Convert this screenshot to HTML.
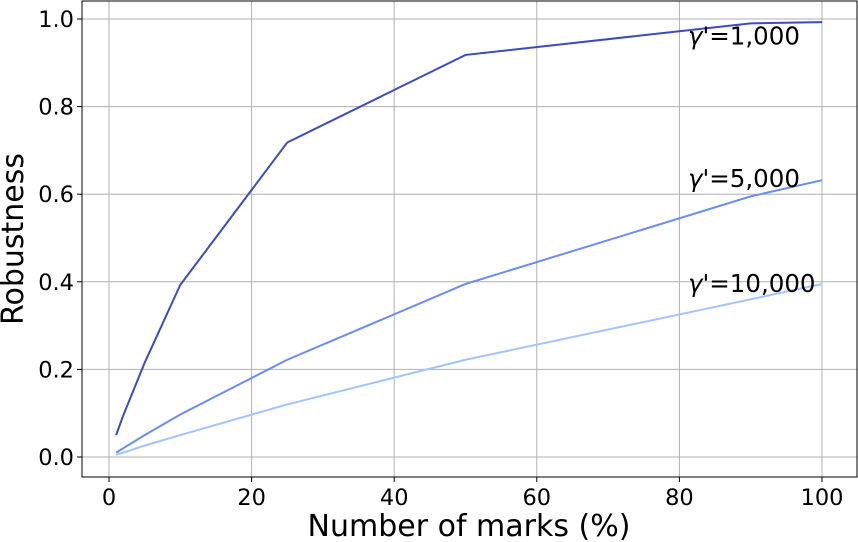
<!DOCTYPE html>
<html><head><meta charset="utf-8"><style>body{margin:0;background:#fff}svg{display:block;font-family:"DejaVu Sans","Liberation Sans",sans-serif}</style></head>
<body>
<svg id="c" width="858" height="542"></svg>
<script>
const xs=[1,2,5,10,25,50,90,100];
const s1000=[0.05,0.095,0.215,0.393,0.718,0.918,0.99,0.993];
const s5000=[0.01,0.02,0.05,0.097,0.222,0.395,0.595,0.632];
const s10000=[0.005,0.01,0.026,0.05,0.12,0.222,0.36,0.395];
const series=[s1000,s5000,s10000];
const labels=["1,000","5,000","10,000"];
const labelY=[0.96,0.635,0.395];
const colors=["#3a4cc0","#6b8df0","#a5c3fe"];
const xticks=[0,20,40,60,80,100];
const yticks=[0.0,0.2,0.4,0.6,0.8,1.0];
const L=82,R=857,T=1,B=477;
const X=v=>109+v*7.13, Y=v=>457-v*438;
const svg=document.getElementById('c');const NS='http://www.w3.org/2000/svg';
function mk(t,a,p){const e=document.createElementNS(NS,t);for(const k in a)e.setAttribute(k,a[k]);(p||svg).appendChild(e);return e;}
xticks.forEach(t=>{const g=mk('line',{x1:X(t),x2:X(t),y1:T,y2:B,stroke:'#b0b0b0','stroke-width':1});

mk('line',{x1:X(t),x2:X(t),y1:B,y2:B+5,stroke:'#000'});
const tx=mk('text',{x:X(t),y:B+28,'text-anchor':'middle','font-size':22.5});tx.textContent=t;
});
yticks.forEach(t=>{const g=mk('line',{x1:L,x2:R,y1:Y(t),y2:Y(t),stroke:'#b0b0b0','stroke-width':1});

mk('line',{x1:L-5,x2:L,y1:Y(t),y2:Y(t),stroke:'#000'});
const tx=mk('text',{x:L-8,y:Y(t)+8,'text-anchor':'end','font-size':22.5});tx.textContent=t.toFixed(1);
});
series.forEach((s,i)=>{const p=mk('polyline',{points:s.map((v,j)=>X(xs[j])+','+Y(v)).join(' '),fill:'none',stroke:colors[i],'stroke-width':2});

const tx=mk('text',{x:688,y:Y(labelY[i])+8,'font-size':24.5});
const g1=mk('tspan',{'font-style':'italic'},tx);g1.textContent='γ';
const g2=mk('tspan',{},tx);g2.textContent="'="+labels[i];
});
const f=mk('rect',{x:L,y:T,width:R-L,height:B-T,fill:'none',stroke:'#000','stroke-width':1});

const xl=mk('text',{x:469,y:536,'text-anchor':'middle','font-size':30});xl.textContent='Number of marks (%)';

const yl=mk('text',{x:0,y:0,'text-anchor':'middle','font-size':30,transform:'translate(23,239) rotate(-90)'});yl.textContent='Robustness';

</script>
</body></html>
